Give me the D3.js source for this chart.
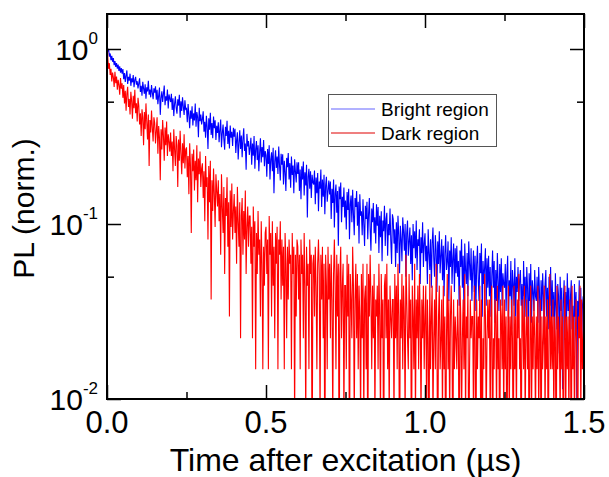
<!DOCTYPE html>
<html><head><meta charset="utf-8">
<script src="https://cdn.jsdelivr.net/npm/d3@7"></script>
<style>body{margin:0;background:#fff}svg{display:block;font-family:"Liberation Sans",Arial,Helvetica,sans-serif}</style>
</head><body><svg id="c" width="609" height="477"></svg>
<script>
// ---- data (counts per 2.5 ns bin) ----
const timeStep = 0.0025; // µs per bin
const seriesNames = ["Bright region", "Dark region"];
const seriesColors = ["#0000ff", "#ff0000"];
const brightNorm = 440;
const darkNorm = 135;
const brightCounts = [
470,425,440,398,415,380,402,372,390,356,375,348,366,340,358,330,350,322,342,318,
338,296,321,285,310,332,278,305,290,318,271,299,284,312,266,293,305,275,288,262,
281,299,250,271,238,286,262,244,277,229,266,252,290,241,258,233,274,248,227,262,
248,269,226,257,213,239,265,185,231,252,219,244,272,210,236,223,258,201,242,229,
219,244,197,230,182,214,236,203,188,227,209,241,178,221,195,233,206,185,224,199,
201,168,213,184,155,196,176,207,161,189,172,215,158,192,180,138,203,170,186,163,
175,194,148,169,137,183,158,118,177,152,190,142,166,136,181,155,172,133,160,146,
168,129,152,174,121,145,163,134,117,158,140,171,126,150,119,161,137,148,123,156,
139,154,112,133,147,103,128,151,118,141,106,135,155,115,127,90,144,122,131,109,
120,137,96,127,108,140,91,118,131,102,124,88,113,136,99,121,106,133,94,115,
109,82,118,97,124,79,103,113,88,120,66,100,116,92,107,85,122,95,78,111,
96,110,74,101,87,68,105,93,112,79,98,71,107,84,95,66,103,88,76,99,
85,99,68,90,61,94,79,100,64,87,73,96,48,82,91,70,88,62,84,76,
74,89,57,81,66,86,52,77,70,90,55,79,63,84,50,73,82,59,68,78,
65,77,47,70,58,79,42,66,74,51,68,33,72,61,76,45,63,55,71,48,
60,41,67,53,70,36,57,64,45,69,50,38,62,55,68,43,59,34,65,49,
52,38,61,44,33,56,47,59,36,50,62,41,31,54,45,58,39,48,34,57,
43,55,30,49,37,52,27,46,40,56,33,47,51,29,44,38,54,35,26,50,
47,34,41,25,45,30,49,38,23,43,36,27,48,40,31,44,22,39,46,29,
35,42,26,38,21,44,32,40,28,46,24,36,33,41,20,37,30,45,25,34,
39,27,33,20,41,30,24,36,19,34,42,28,22,38,31,18,35,26,40,23,
29,36,21,33,17,30,38,24,27,35,16,31,25,37,20,28,34,18,32,23,
33,22,27,15,31,25,36,19,29,14,34,24,20,30,17,35,26,21,32,16,
24,31,18,29,14,26,33,21,16,30,23,34,13,27,20,25,32,15,28,19,
29,17,25,13,22,31,19,27,12,24,16,30,21,14,26,18,28,15,23,20,
19,26,14,23,29,12,21,17,27,11,24,20,15,28,13,22,18,25,16,21,
24,15,20,11,27,17,22,13,25,19,10,23,16,26,12,21,18,14,24,17,
16,22,12,25,18,10,21,14,23,17,9,20,24,13,19,11,22,15,25,12,
21,13,18,9,23,15,11,20,17,8,22,14,19,5,16,21,10,18,12,23,
14,19,9,17,21,11,15,7,20,13,18,4,16,12,21,10,19,8,15,17,
11];
const darkCounts = [
172,120,104,112,96,104,88,99,93,82,100,86,94,79,90,84,74,92,80,86,
71,84,66,78,60,75,82,63,70,57,77,68,54,73,62,79,58,66,52,71,
64,50,58,43,61,55,38,59,47,66,52,41,57,29,53,45,60,48,40,55,
51,39,46,55,34,49,42,24,47,36,53,43,31,48,38,52,33,44,40,35,
45,33,40,27,47,36,29,43,38,22,41,31,46,34,26,39,30,44,28,36,
37,25,33,20,39,29,12,34,27,36,21,31,24,38,18,32,26,35,22,28,
30,19,27,14,33,22,25,11,29,18,31,5,24,16,28,20,13,26,21,17,
24,14,20,9,26,17,12,22,7,19,15,25,10,18,4,21,13,23,11,16,
20,12,17,8,22,14,10,18,3,15,19,9,16,11,21,7,13,17,10,15,
15,8,13,3,17,10,14,2,12,7,16,9,11,4,14,8,2,10,6,12,
13,7,11,2,15,9,12,4,14,6,10,3,12,8,13,2,11,9,14,5,
11,6,10,2,12,8,3,10,5,11,8,9,2,12,7,10,1,9,4,11,
10,5,9,2,11,7,9,3,12,6,1,10,6,8,2,11,7,9,0,8,
9,4,10,6,2,8,11,7,1,9,5,10,3,8,0,9,6,2,10,5,
8,3,9,5,1,7,11,6,2,9,4,8,0,7,10,3,6,8,1,6,
6,2,9,4,8,0,7,5,3,10,6,1,5,8,3,7,2,6,4,1,
7,3,8,1,5,6,2,8,0,7,4,9,5,2,6,3,7,1,5,4,
6,2,8,4,1,7,3,5,0,6,7,3,8,2,5,1,6,4,3,5,
5,1,7,3,6,2,8,4,0,5,3,7,2,6,4,1,9,5,3,2,
7,3,5,0,6,4,2,8,1,5,3,6,2,7,4,1,5,3,6,2,
4,6,1,5,3,0,7,2,4,6,1,3,5,2,8,3,0,4,6,2,
3,5,1,6,2,4,0,3,7,2,5,1,4,6,3,0,5,2,4,3,
2,5,3,0,6,4,1,3,5,2,7,1,4,3,6,0,2,5,3,4,
4,1,6,3,0,5,2,4,3,6,1,5,0,3,2,7,4,1,3,5,
3,5,1,4,6,0,3,2,5,4,1,6,2,3,0,5,4,2,6,1,
5,2,4,0,3,6,1,4,2,5,3,0,6,2,4,1,5,3,7,2,
3,0,5,4,2,6,1,3,5,2,4,0,3,6,1,4,2,5,3,1,
4,2,6,1,3,5,0,4,2,3,6,1,4,2,5,0,3,7,2,4,
2,5,1,4,3,0,6,2,4,3,1,5,2,4,0,3,6,1,4,2,
4,1,5,3,0,6,2,4,1,3,5,2,0,4,3,6,1,5,2,3,
4];
const xMajorTicks = [0, 0.5, 1.0, 1.5];
const xMinorTicks = [0.25, 0.75, 1.25];
const xTickLabels = ["0.0", "0.5", "1.0", "1.5"];
const yMajorTicks = [1, 0.1, 0.01];
const yTickExponents = ["0", "-1", "-2"];
const yMinorTicks = [0.5, 0.05];
const xTitle = "Time after excitation (\u00b5s)";
const yTitle = "PL (norm.)";

// ---- layout ----
const L = 107, R = 584, T = 14, B = 399;
const svg = d3.select("#c");
const x = d3.scaleLinear().domain([0, 1.5]).range([L, R]);
const y = d3.scaleLog().domain([0.01, 1.585]).range([B, T]);

svg.append("defs").append("clipPath").attr("id", "clip")
  .append("rect").attr("x", L).attr("y", T).attr("width", R - L).attr("height", B - T);

const series = [
  {name: seriesNames[0], color: seriesColors[0], counts: brightCounts, norm: brightNorm},
  {name: seriesNames[1], color: seriesColors[1], counts: darkCounts, norm: darkNorm}
];
const line = d3.line()
  .x((d, i) => x(i * timeStep))
  .y(d => y(Math.max(d, 0.003)));

const plot = svg.append("g").attr("clip-path", "url(#clip)");
series.forEach(s => {
  plot.append("path")
    .datum(s.counts.map(c => c / s.norm))
    .attr("fill", "none")
    .attr("stroke", s.color)
    .attr("stroke-width", 1.1)
    .attr("d", line);
});

// ---- axes (ticks inward) ----
function styleAxis(g) {
  g.select(".domain").remove();
  g.selectAll(".tick line").attr("stroke", "#000").attr("stroke-width", 1.5);
  g.selectAll(".tick text").remove();
}
const axes = [
  [d3.axisBottom(x), `translate(0,${B})`, xMajorTicks, xMinorTicks],
  [d3.axisTop(x), `translate(0,${T})`, xMajorTicks, xMinorTicks],
  [d3.axisLeft(y), `translate(${L},0)`, yMajorTicks, yMinorTicks],
  [d3.axisRight(y), `translate(${R},0)`, yMajorTicks, yMinorTicks]
];
axes.forEach(([ax, tr, major, minor]) => {
  svg.append("g").attr("transform", tr)
    .call(ax.tickValues(major).tickSizeInner(-14).tickSizeOuter(0)).call(styleAxis);
  svg.append("g").attr("transform", tr)
    .call(ax.tickValues(minor).tickSizeInner(-7).tickSizeOuter(0)).call(styleAxis);
});

svg.append("rect").attr("x", L).attr("y", T).attr("width", R - L).attr("height", B - T)
  .attr("fill", "none").attr("stroke", "#000").attr("stroke-width", 2);

// x tick labels
svg.append("g").selectAll("text").data(xMajorTicks).join("text")
  .attr("x", d => x(d)).attr("y", 433)
  .attr("text-anchor", "middle").attr("font-size", 31).attr("fill", "#000")
  .text((d, i) => xTickLabels[i]);

// y tick labels with superscript exponents
const yl = svg.append("g").selectAll("text").data(yMajorTicks).join("text")
  .attr("x", 98).attr("y", d => y(d) + 11)
  .attr("text-anchor", "end").attr("fill", "#000");
yl.append("tspan").attr("font-size", 30).text("10");
yl.append("tspan").attr("font-size", 17).attr("dy", -16).text((d, i) => yTickExponents[i]);

// axis titles
svg.append("text").attr("x", (L + R) / 2).attr("y", 471)
  .attr("text-anchor", "middle").attr("font-size", 32).attr("fill", "#000").text(xTitle);
svg.append("text").attr("transform", `translate(34,${(T + B) / 2 + 2}) rotate(-90)`)
  .attr("text-anchor", "middle").attr("font-size", 30).attr("fill", "#000").text(yTitle);

// legend
const lg = svg.append("g");
lg.append("rect").attr("x", 328.5).attr("y", 94.5).attr("width", 168).attr("height", 52)
  .attr("fill", "#fff").attr("stroke", "#555").attr("stroke-width", 1);
const legendColors = ["#6464ff", "#e00000"];
series.forEach((s, i) => {
  const cy = 109 + i * 24;
  lg.append("line").attr("x1", 331).attr("x2", 375).attr("y1", cy).attr("y2", cy)
    .attr("stroke", legendColors[i]).attr("stroke-width", 1.2);
  lg.append("text").attr("x", 381).attr("y", cy + 7).attr("font-size", 19).attr("fill", "#000").text(s.name);
});
</script></body></html>
